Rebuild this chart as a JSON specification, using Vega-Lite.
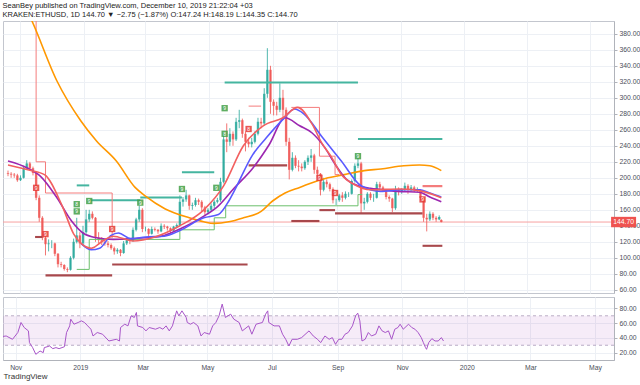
{
 "$schema": "https://vega.github.io/schema/vega-lite/v6.json",
 "background": "white",
 "padding": {"left": 0, "right": 0, "top": 1, "bottom": 0},
 "spacing": 1,
 "title": {"text": "SeanBey published on TradingView.com, December 10, 2019 21:22:04 +03", "subtitle": "KRAKEN:ETHUSD, 1D  144.70 ▼ −2.75 (−1.87%)  O:147.24  H:148.19  L:144.35  C:144.70", "anchor": "start", "font": "Liberation Sans", "fontSize": 7.5, "fontWeight": "normal", "color": "#222222", "subtitleFont": "Liberation Sans", "subtitleFontSize": 7.5, "subtitleColor": "#222222", "subtitlePadding": 2, "offset": 2, "dx": 2},
 "config": {
  "view": {"stroke": "#c3c6ce"},
  "axis": {"gridColor": "#edf0f5", "labelFont": "Liberation Sans", "labelFontSize": 6.8, "labelColor": "#4a4e59", "domainColor": "#b0b3ba", "tickColor": "#b0b3ba", "tickSize": 3, "labelPadding": 2, "labelOverlap": false}
 },
 "datasets": {
  "candles": [
   {"d":"2018-10-20","o":206,"h":209,"l":202,"c":205},
   {"d":"2018-10-23","o":205,"h":207,"l":200,"c":204},
   {"d":"2018-10-26","o":204,"h":206,"l":200,"c":203},
   {"d":"2018-10-29","o":203,"h":205,"l":195,"c":197},
   {"d":"2018-11-01","o":197,"h":203,"l":196,"c":200},
   {"d":"2018-11-04","o":200,"h":215,"l":199,"c":212},
   {"d":"2018-11-07","o":212,"h":222,"l":210,"c":218},
   {"d":"2018-11-10","o":218,"h":220,"l":209,"c":212},
   {"d":"2018-11-13","o":212,"h":214,"l":203,"c":206},
   {"d":"2018-11-16","o":206,"h":207,"l":172,"c":175},
   {"d":"2018-11-19","o":175,"h":178,"l":145,"c":150},
   {"d":"2018-11-22","o":150,"h":152,"l":122,"c":125},
   {"d":"2018-11-25","o":125,"h":128,"l":103,"c":117},
   {"d":"2018-11-28","o":117,"h":123,"l":108,"c":118},
   {"d":"2018-12-01","o":118,"h":122,"l":112,"c":118},
   {"d":"2018-12-04","o":118,"h":119,"l":102,"c":105},
   {"d":"2018-12-07","o":105,"h":106,"l":88,"c":92},
   {"d":"2018-12-10","o":92,"h":95,"l":88,"c":91},
   {"d":"2018-12-13","o":91,"h":92,"l":84,"c":86},
   {"d":"2018-12-16","o":86,"h":88,"l":82,"c":85},
   {"d":"2018-12-19","o":85,"h":102,"l":84,"c":100},
   {"d":"2018-12-22","o":100,"h":124,"l":98,"c":120},
   {"d":"2018-12-25","o":120,"h":150,"l":118,"c":128},
   {"d":"2018-12-28","o":128,"h":132,"l":112,"c":118},
   {"d":"2018-12-31","o":118,"h":140,"l":115,"c":132},
   {"d":"2019-01-03","o":132,"h":160,"l":130,"c":148},
   {"d":"2019-01-06","o":148,"h":160,"l":145,"c":155},
   {"d":"2019-01-09","o":155,"h":158,"l":148,"c":150},
   {"d":"2019-01-12","o":150,"h":151,"l":120,"c":125},
   {"d":"2019-01-15","o":125,"h":132,"l":118,"c":122},
   {"d":"2019-01-18","o":122,"h":126,"l":116,"c":120},
   {"d":"2019-01-21","o":120,"h":123,"l":115,"c":118},
   {"d":"2019-01-24","o":118,"h":121,"l":113,"c":116},
   {"d":"2019-01-27","o":116,"h":118,"l":110,"c":112},
   {"d":"2019-01-30","o":112,"h":114,"l":104,"c":108},
   {"d":"2019-02-02","o":108,"h":112,"l":105,"c":110},
   {"d":"2019-02-05","o":110,"h":111,"l":102,"c":106},
   {"d":"2019-02-08","o":106,"h":121,"l":105,"c":118},
   {"d":"2019-02-11","o":118,"h":125,"l":116,"c":122},
   {"d":"2019-02-14","o":122,"h":124,"l":117,"c":121},
   {"d":"2019-02-17","o":121,"h":138,"l":120,"c":135},
   {"d":"2019-02-20","o":135,"h":150,"l":133,"c":148},
   {"d":"2019-02-23","o":148,"h":165,"l":145,"c":160},
   {"d":"2019-02-26","o":160,"h":162,"l":132,"c":136},
   {"d":"2019-03-01","o":136,"h":139,"l":133,"c":136},
   {"d":"2019-03-04","o":136,"h":137,"l":126,"c":130},
   {"d":"2019-03-07","o":130,"h":139,"l":129,"c":136},
   {"d":"2019-03-10","o":136,"h":138,"l":133,"c":135},
   {"d":"2019-03-13","o":135,"h":136,"l":130,"c":133},
   {"d":"2019-03-16","o":133,"h":143,"l":132,"c":140},
   {"d":"2019-03-19","o":140,"h":142,"l":136,"c":139},
   {"d":"2019-03-22","o":139,"h":140,"l":134,"c":137},
   {"d":"2019-03-25","o":137,"h":138,"l":131,"c":134},
   {"d":"2019-03-28","o":134,"h":140,"l":133,"c":139},
   {"d":"2019-03-31","o":139,"h":143,"l":137,"c":141},
   {"d":"2019-04-03","o":141,"h":178,"l":140,"c":170},
   {"d":"2019-04-06","o":170,"h":176,"l":164,"c":173},
   {"d":"2019-04-09","o":173,"h":185,"l":170,"c":178},
   {"d":"2019-04-12","o":178,"h":179,"l":160,"c":165},
   {"d":"2019-04-15","o":165,"h":169,"l":160,"c":166},
   {"d":"2019-04-18","o":166,"h":175,"l":164,"c":172},
   {"d":"2019-04-21","o":172,"h":174,"l":166,"c":170},
   {"d":"2019-04-24","o":170,"h":172,"l":158,"c":163},
   {"d":"2019-04-27","o":163,"h":165,"l":152,"c":157},
   {"d":"2019-04-30","o":157,"h":162,"l":154,"c":160},
   {"d":"2019-05-03","o":160,"h":168,"l":158,"c":165},
   {"d":"2019-05-06","o":165,"h":172,"l":162,"c":170},
   {"d":"2019-05-09","o":170,"h":175,"l":168,"c":172},
   {"d":"2019-05-12","o":172,"h":200,"l":170,"c":195},
   {"d":"2019-05-15","o":195,"h":255,"l":193,"c":248},
   {"d":"2019-05-18","o":248,"h":268,"l":232,"c":245},
   {"d":"2019-05-21","o":245,"h":262,"l":240,"c":255},
   {"d":"2019-05-24","o":255,"h":258,"l":240,"c":248},
   {"d":"2019-05-27","o":248,"h":275,"l":246,"c":270},
   {"d":"2019-05-30","o":270,"h":285,"l":262,"c":272},
   {"d":"2019-06-02","o":272,"h":274,"l":250,"c":255},
   {"d":"2019-06-05","o":255,"h":258,"l":233,"c":245},
   {"d":"2019-06-08","o":245,"h":250,"l":238,"c":242},
   {"d":"2019-06-11","o":242,"h":250,"l":238,"c":245},
   {"d":"2019-06-14","o":245,"h":258,"l":243,"c":255},
   {"d":"2019-06-17","o":255,"h":275,"l":253,"c":270},
   {"d":"2019-06-20","o":270,"h":275,"l":262,"c":268},
   {"d":"2019-06-23","o":268,"h":312,"l":265,"c":305},
   {"d":"2019-06-26","o":305,"h":362,"l":300,"c":335},
   {"d":"2019-06-29","o":335,"h":340,"l":280,"c":295},
   {"d":"2019-07-02","o":295,"h":298,"l":278,"c":290},
   {"d":"2019-07-05","o":290,"h":295,"l":278,"c":285},
   {"d":"2019-07-08","o":285,"h":318,"l":282,"c":300},
   {"d":"2019-07-11","o":300,"h":310,"l":275,"c":285},
   {"d":"2019-07-14","o":285,"h":288,"l":240,"c":245},
   {"d":"2019-07-17","o":245,"h":250,"l":198,"c":210},
   {"d":"2019-07-20","o":210,"h":232,"l":208,"c":225},
   {"d":"2019-07-23","o":225,"h":228,"l":212,"c":215},
   {"d":"2019-07-26","o":215,"h":222,"l":208,"c":214},
   {"d":"2019-07-29","o":214,"h":218,"l":208,"c":212},
   {"d":"2019-08-01","o":212,"h":222,"l":210,"c":220},
   {"d":"2019-08-04","o":220,"h":228,"l":216,"c":225},
   {"d":"2019-08-07","o":225,"h":236,"l":220,"c":228},
   {"d":"2019-08-10","o":228,"h":230,"l":205,"c":210},
   {"d":"2019-08-13","o":210,"h":214,"l":200,"c":205},
   {"d":"2019-08-16","o":205,"h":206,"l":178,"c":185},
   {"d":"2019-08-19","o":185,"h":200,"l":183,"c":195},
   {"d":"2019-08-22","o":195,"h":198,"l":188,"c":192},
   {"d":"2019-08-25","o":192,"h":194,"l":183,"c":186},
   {"d":"2019-08-28","o":186,"h":188,"l":168,"c":172},
   {"d":"2019-08-31","o":172,"h":174,"l":166,"c":172},
   {"d":"2019-09-03","o":172,"h":180,"l":170,"c":178},
   {"d":"2019-09-06","o":178,"h":182,"l":170,"c":175},
   {"d":"2019-09-09","o":175,"h":183,"l":173,"c":180},
   {"d":"2019-09-12","o":180,"h":182,"l":176,"c":180},
   {"d":"2019-09-15","o":180,"h":198,"l":179,"c":196},
   {"d":"2019-09-18","o":196,"h":218,"l":194,"c":215},
   {"d":"2019-09-21","o":215,"h":225,"l":212,"c":218},
   {"d":"2019-09-24","o":218,"h":220,"l":155,"c":168},
   {"d":"2019-09-27","o":168,"h":175,"l":160,"c":170},
   {"d":"2019-09-30","o":170,"h":182,"l":168,"c":180},
   {"d":"2019-10-03","o":180,"h":182,"l":172,"c":175},
   {"d":"2019-10-06","o":175,"h":180,"l":170,"c":175},
   {"d":"2019-10-09","o":175,"h":195,"l":174,"c":192},
   {"d":"2019-10-12","o":192,"h":195,"l":185,"c":188},
   {"d":"2019-10-15","o":188,"h":190,"l":182,"c":185},
   {"d":"2019-10-18","o":185,"h":186,"l":173,"c":176},
   {"d":"2019-10-21","o":176,"h":178,"l":170,"c":174},
   {"d":"2019-10-24","o":174,"h":175,"l":157,"c":162},
   {"d":"2019-10-27","o":162,"h":190,"l":160,"c":185},
   {"d":"2019-10-30","o":185,"h":188,"l":178,"c":183},
   {"d":"2019-11-02","o":183,"h":187,"l":180,"c":185},
   {"d":"2019-11-05","o":185,"h":194,"l":183,"c":190},
   {"d":"2019-11-08","o":190,"h":192,"l":180,"c":186},
   {"d":"2019-11-11","o":186,"h":191,"l":183,"c":188},
   {"d":"2019-11-14","o":188,"h":190,"l":182,"c":185},
   {"d":"2019-11-17","o":185,"h":188,"l":182,"c":185},
   {"d":"2019-11-20","o":185,"h":186,"l":172,"c":175},
   {"d":"2019-11-23","o":175,"h":176,"l":145,"c":150},
   {"d":"2019-11-26","o":150,"h":155,"l":133,"c":148},
   {"d":"2019-11-29","o":148,"h":158,"l":146,"c":155},
   {"d":"2019-12-02","o":155,"h":157,"l":147,"c":150},
   {"d":"2019-12-05","o":150,"h":152,"l":145,"c":148},
   {"d":"2019-12-08","o":148,"h":153,"l":147,"c":151},
   {"d":"2019-12-10","o":147.24,"h":148.19,"l":144.35,"c":144.7}
  ],
  "segs": [
   {"a":"2019-05-16","b":"2019-09-21","p":319,"k":"t"},
   {"a":"2019-09-21","b":"2019-12-11","p":248.5,"k":"t"},
   {"a":"2018-12-25","b":"2019-01-06","p":190.5,"k":"t"},
   {"a":"2019-01-06","b":"2019-02-24","p":172,"k":"t"},
   {"a":"2019-02-24","b":"2019-04-05","p":175.5,"k":"t"},
   {"a":"2019-04-05","b":"2019-05-06","p":207,"k":"t"},
   {"a":"2018-11-15","b":"2018-11-22","p":126,"k":"d"},
   {"a":"2018-11-25","b":"2019-01-28","p":78,"k":"d"},
   {"a":"2019-01-28","b":"2019-06-07","p":91.7,"k":"d"},
   {"a":"2019-06-08","b":"2019-07-15","p":215.5,"k":"d"},
   {"a":"2019-07-19","b":"2019-08-15","p":146,"k":"d"},
   {"a":"2019-08-15","b":"2019-08-30","p":159.6,"k":"d"},
   {"a":"2019-08-30","b":"2019-11-22","p":155.5,"k":"d"},
   {"a":"2019-11-22","b":"2019-12-11","p":115,"k":"d"},
   {"a":"2019-11-22","b":"2019-12-11","p":189.6,"k":"s"}
  ],
  "steps": [
   {"s":"s1","d":"2018-11-14","p":430},
   {"s":"s1","d":"2018-11-16","p":220},
   {"s":"s1","d":"2018-11-25","p":181},
   {"s":"s1","d":"2019-01-28","p":125},
   {"s":"s2","d":"2019-06-08","p":289.6},
   {"s":"s2","d":"2019-06-20","p":289.6},
   {"s":"s3","d":"2019-07-19","p":288},
   {"s":"s3","d":"2019-08-15","p":227},
   {"s":"s3","d":"2019-08-30","p":204},
   {"s":"s3","d":"2019-09-03","p":204},
   {"s":"g","d":"2018-12-25","p":85.5},
   {"s":"g","d":"2019-01-06","p":123},
   {"s":"g","d":"2019-04-03","p":135},
   {"s":"g","d":"2019-05-06","p":150},
   {"s":"g","d":"2019-05-17","p":165},
   {"s":"g","d":"2019-09-21","p":179},
   {"s":"g","d":"2019-09-25","p":179}
  ],
  "tds": [
   {"d":"2018-11-16","p":187.5,"k":"r","t":"9"},
   {"d":"2018-11-25","p":129.6,"k":"r","t":"9"},
   {"d":"2018-12-25","p":167,"k":"g","t":"8"},
   {"d":"2018-12-25","p":158,"k":"g","t":"9"},
   {"d":"2019-01-06","p":171,"k":"g","t":"9"},
   {"d":"2019-01-28","p":136,"k":"r","t":"9"},
   {"d":"2019-02-24","p":169,"k":"g","t":"9"},
   {"d":"2019-04-05","p":186,"k":"g","t":"9"},
   {"d":"2019-05-08","p":187.5,"k":"g","t":"9"},
   {"d":"2019-05-16","p":287,"k":"g","t":"9"},
   {"d":"2019-05-16","p":255,"k":"g","t":"8"},
   {"d":"2019-06-08","p":261,"k":"r","t":"8"},
   {"d":"2019-08-15","p":200,"k":"r","t":"9"},
   {"d":"2019-08-30","p":181,"k":"r","t":"9"},
   {"d":"2019-09-21","p":227,"k":"g","t":"9"},
   {"d":"2019-11-22","p":173,"k":"r","t":"9"}
  ],
  "last": [
   {"a":"2020-05-21","b":"2020-06-14","m":"2020-06-02","lo":138.2,"hi":151.2,"p":144.7,"t":"144.70"}
  ],
  "mas": [
   {"s":"o","d":"2018-11-07","p":410},{"s":"o","d":"2018-11-12","p":396},{"s":"o","d":"2018-12-06","p":321},{"s":"o","d":"2018-12-29","p":271},{"s":"o","d":"2019-01-13","p":246},{"s":"o","d":"2019-02-01","p":221},{"s":"o","d":"2019-02-19","p":188},{"s":"o","d":"2019-03-01","p":177},{"s":"o","d":"2019-03-20","p":161},{"s":"o","d":"2019-04-12","p":150},{"s":"o","d":"2019-04-26","p":145},{"s":"o","d":"2019-05-06","p":143},{"s":"o","d":"2019-05-20","p":145},{"s":"o","d":"2019-06-03","p":150},{"s":"o","d":"2019-06-20","p":158},{"s":"o","d":"2019-07-01","p":171},{"s":"o","d":"2019-07-13","p":181},{"s":"o","d":"2019-07-27","p":188},{"s":"o","d":"2019-08-17","p":198},{"s":"o","d":"2019-09-08","p":204},{"s":"o","d":"2019-09-27","p":209},{"s":"o","d":"2019-10-13","p":211},{"s":"o","d":"2019-11-04","p":215},{"s":"o","d":"2019-11-19","p":216},{"s":"o","d":"2019-11-29","p":215},{"s":"o","d":"2019-12-10","p":209},
   {"s":"m","d":"2018-10-20","p":221},{"s":"m","d":"2018-11-08","p":212},{"s":"m","d":"2018-11-20","p":202},{"s":"m","d":"2018-12-06","p":175},{"s":"m","d":"2018-12-20","p":146},{"s":"m","d":"2018-12-31","p":131},{"s":"m","d":"2019-01-13","p":125},{"s":"m","d":"2019-01-29","p":123},{"s":"m","d":"2019-02-17","p":124},{"s":"m","d":"2019-03-01","p":125},{"s":"m","d":"2019-03-19","p":128},{"s":"m","d":"2019-04-03","p":136},{"s":"m","d":"2019-04-26","p":152},{"s":"m","d":"2019-05-10","p":165},{"s":"m","d":"2019-05-25","p":187},{"s":"m","d":"2019-06-12","p":212},{"s":"m","d":"2019-06-28","p":242},{"s":"m","d":"2019-07-13","p":275},{"s":"m","d":"2019-07-27","p":265},{"s":"m","d":"2019-08-08","p":256},{"s":"m","d":"2019-08-20","p":238},{"s":"m","d":"2019-08-30","p":217},{"s":"m","d":"2019-09-10","p":198},{"s":"m","d":"2019-09-27","p":188},{"s":"m","d":"2019-10-03","p":187},{"s":"m","d":"2019-10-29","p":183},{"s":"m","d":"2019-11-19","p":182},{"s":"m","d":"2019-11-29","p":176},{"s":"m","d":"2019-12-10","p":170},
   {"s":"b","d":"2018-12-29","p":118},{"s":"b","d":"2019-01-08","p":110},{"s":"b","d":"2019-01-16","p":112},{"s":"b","d":"2019-01-27","p":128},{"s":"b","d":"2019-02-03","p":131},{"s":"b","d":"2019-02-15","p":124},{"s":"b","d":"2019-03-01","p":126},{"s":"b","d":"2019-03-19","p":127},{"s":"b","d":"2019-04-03","p":134},{"s":"b","d":"2019-04-26","p":150},{"s":"b","d":"2019-05-10","p":154},{"s":"b","d":"2019-05-20","p":171},{"s":"b","d":"2019-05-25","p":183},{"s":"b","d":"2019-06-12","p":229},{"s":"b","d":"2019-06-25","p":250},{"s":"b","d":"2019-07-11","p":273},{"s":"b","d":"2019-07-22","p":286},{"s":"b","d":"2019-07-31","p":280},{"s":"b","d":"2019-08-17","p":252},{"s":"b","d":"2019-09-05","p":221},{"s":"b","d":"2019-09-24","p":190},{"s":"b","d":"2019-10-13","p":183},{"s":"b","d":"2019-11-01","p":185},{"s":"b","d":"2019-11-19","p":185},{"s":"b","d":"2019-11-29","p":181},{"s":"b","d":"2019-12-10","p":176},
   {"s":"r","d":"2018-10-20","p":216},{"s":"r","d":"2018-11-08","p":210},{"s":"r","d":"2018-11-24","p":204},{"s":"r","d":"2018-12-11","p":165},{"s":"r","d":"2018-12-22","p":130},{"s":"r","d":"2018-12-30","p":117},{"s":"r","d":"2019-01-08","p":112},{"s":"r","d":"2019-01-19","p":121},{"s":"r","d":"2019-01-29","p":127},{"s":"r","d":"2019-02-17","p":121},{"s":"r","d":"2019-03-10","p":126},{"s":"r","d":"2019-04-03","p":140},{"s":"r","d":"2019-04-26","p":160},{"s":"r","d":"2019-05-15","p":190},{"s":"r","d":"2019-06-03","p":240},{"s":"r","d":"2019-06-22","p":265},{"s":"r","d":"2019-07-11","p":275},{"s":"r","d":"2019-07-25","p":288},{"s":"r","d":"2019-08-08","p":267},{"s":"r","d":"2019-08-17","p":244},{"s":"r","d":"2019-08-27","p":225},{"s":"r","d":"2019-09-05","p":204},{"s":"r","d":"2019-09-17","p":192},{"s":"r","d":"2019-10-03","p":185},{"s":"r","d":"2019-11-01","p":186},{"s":"r","d":"2019-11-22","p":183},{"s":"r","d":"2019-12-10","p":175}
  ],
  "rsi": [
   {"d":"2018-10-20","v":42},{"d":"2018-10-23","v":42.6},{"d":"2018-10-29","v":38.1},{"d":"2018-11-03","v":47.3},{"d":"2018-11-06","v":60.9},{"d":"2018-11-09","v":54.1},{"d":"2018-11-13","v":49.5},{"d":"2018-11-14","v":33.6},{"d":"2018-11-17","v":26.8},{"d":"2018-11-20","v":17.7},{"d":"2018-11-24","v":22.2},{"d":"2018-11-27","v":20},{"d":"2018-11-28","v":26.8},{"d":"2018-12-03","v":29},{"d":"2018-12-06","v":25.4},{"d":"2018-12-09","v":26.8},{"d":"2018-12-12","v":25.4},{"d":"2018-12-17","v":28},{"d":"2018-12-19","v":47.3},{"d":"2018-12-22","v":56.3},{"d":"2018-12-23","v":65.4},{"d":"2018-12-26","v":58.6},{"d":"2018-12-30","v":60.9},{"d":"2019-01-02","v":63.1},{"d":"2019-01-05","v":60.9},{"d":"2019-01-08","v":56.3},{"d":"2019-01-11","v":51.8},{"d":"2019-01-13","v":42.6},{"d":"2019-01-17","v":47.3},{"d":"2019-01-22","v":45},{"d":"2019-01-28","v":35.8},{"d":"2019-02-04","v":38.1},{"d":"2019-02-07","v":35.8},{"d":"2019-02-08","v":54.1},{"d":"2019-02-12","v":58.6},{"d":"2019-02-15","v":56.3},{"d":"2019-02-18","v":69.9},{"d":"2019-02-21","v":67.7},{"d":"2019-02-23","v":74.5},{"d":"2019-02-24","v":56.3},{"d":"2019-03-01","v":54.1},{"d":"2019-03-04","v":49.5},{"d":"2019-03-07","v":54.1},{"d":"2019-03-13","v":51.8},{"d":"2019-03-17","v":54.1},{"d":"2019-03-20","v":51.8},{"d":"2019-03-23","v":56.3},{"d":"2019-03-26","v":49.5},{"d":"2019-03-29","v":56.3},{"d":"2019-04-02","v":76.7},{"d":"2019-04-04","v":69.9},{"d":"2019-04-07","v":76.7},{"d":"2019-04-11","v":67.7},{"d":"2019-04-12","v":60.9},{"d":"2019-04-15","v":58.6},{"d":"2019-04-18","v":60.9},{"d":"2019-04-22","v":56.3},{"d":"2019-04-25","v":42.6},{"d":"2019-04-28","v":47.3},{"d":"2019-05-03","v":45},{"d":"2019-05-06","v":56.3},{"d":"2019-05-09","v":60.9},{"d":"2019-05-12","v":69.9},{"d":"2019-05-15","v":85.9},{"d":"2019-05-18","v":67.7},{"d":"2019-05-23","v":72.2},{"d":"2019-05-26","v":65.4},{"d":"2019-05-31","v":60.9},{"d":"2019-06-03","v":49.5},{"d":"2019-06-09","v":56.3},{"d":"2019-06-12","v":45},{"d":"2019-06-16","v":58.6},{"d":"2019-06-22","v":60.9},{"d":"2019-06-25","v":72.2},{"d":"2019-06-27","v":76.7},{"d":"2019-06-28","v":60.9},{"d":"2019-07-03","v":56.3},{"d":"2019-07-08","v":56.3},{"d":"2019-07-11","v":45},{"d":"2019-07-14","v":38.1},{"d":"2019-07-17","v":29},{"d":"2019-07-20","v":38.1},{"d":"2019-07-25","v":38.1},{"d":"2019-07-29","v":40.4},{"d":"2019-08-05","v":49.5},{"d":"2019-08-09","v":42.6},{"d":"2019-08-13","v":38.1},{"d":"2019-08-16","v":33.6},{"d":"2019-08-20","v":42.6},{"d":"2019-08-24","v":38.1},{"d":"2019-08-27","v":40.4},{"d":"2019-08-30","v":31.3},{"d":"2019-09-02","v":38.1},{"d":"2019-09-05","v":38.1},{"d":"2019-09-08","v":45},{"d":"2019-09-11","v":47.3},{"d":"2019-09-15","v":56.3},{"d":"2019-09-18","v":69.9},{"d":"2019-09-20","v":73.6},{"d":"2019-09-22","v":63.1},{"d":"2019-09-24","v":35.8},{"d":"2019-09-27","v":38.1},{"d":"2019-09-30","v":47.3},{"d":"2019-10-03","v":42.6},{"d":"2019-10-07","v":45},{"d":"2019-10-10","v":56.3},{"d":"2019-10-13","v":49.5},{"d":"2019-10-16","v":47.3},{"d":"2019-10-19","v":49.5},{"d":"2019-10-22","v":38.1},{"d":"2019-10-25","v":51.8},{"d":"2019-10-28","v":54.1},{"d":"2019-10-30","v":58.6},{"d":"2019-11-02","v":51.8},{"d":"2019-11-07","v":58.6},{"d":"2019-11-10","v":54.1},{"d":"2019-11-13","v":51.8},{"d":"2019-11-16","v":47.3},{"d":"2019-11-19","v":40.4},{"d":"2019-11-21","v":33.6},{"d":"2019-11-23","v":26.8},{"d":"2019-11-24","v":24.5},{"d":"2019-11-26","v":33.6},{"d":"2019-11-29","v":39},{"d":"2019-12-02","v":35.8},{"d":"2019-12-05","v":35.8},{"d":"2019-12-08","v":40.4},{"d":"2019-12-10","v":35.8}
  ]
 },
 "vconcat": [
  {
   "width": 611,
   "height": 272,
   "resolve": {"scale": {"color": "independent", "strokeWidth": "independent"}},
   "layer": [
    {
     "data": {"values": [{}]},
     "mark": {"type": "rule", "color": "#f7a1a1", "strokeWidth": 1},
     "encoding": {
      "y": {"datum": 144.7, "type": "quantitative", "title": null,
            "scale": {"domain": [56, 396], "nice": false, "zero": false},
            "axis": {"orient": "right", "values": [60,80,100,120,140,160,180,200,220,240,260,280,300,320,340,360,380], "tickCount": 40, "format": ".2f", "grid": true, "title": null, "labelOverlap": false, "labelFlush": false}}
     }
    },
    {
     "data": {"name": "candles"},
     "mark": {"type": "rule", "strokeWidth": 1, "opacity": 0.8},
     "encoding": {
      "x": {"field": "d", "type": "temporal", "title": null,
            "scale": {"domain": [{"year": 2018, "month": 10, "date": 20}, {"year": 2020, "month": 5, "date": 19}]},
            "axis": {"values": [{"year":2018,"month":11,"date":1},{"year":2019,"month":1,"date":1},{"year":2019,"month":3,"date":1},{"year":2019,"month":5,"date":1},{"year":2019,"month":7,"date":1},{"year":2019,"month":9,"date":1},{"year":2019,"month":11,"date":1},{"year":2020,"month":1,"date":1},{"year":2020,"month":3,"date":1},{"year":2020,"month":5,"date":1}], "labels": false, "ticks": false, "domain": false, "grid": true, "title": null}},
      "y": {"field": "l", "type": "quantitative", "title": null},
      "y2": {"field": "h"},
      "color": {"condition": {"test": "datum.c >= datum.o", "value": "#26a69a"}, "value": "#ef5350"}
     }
    },
    {
     "data": {"name": "candles"},
     "mark": {"type": "bar", "size": 2.4, "opacity": 0.8},
     "encoding": {
      "x": {"field": "d", "type": "temporal", "title": null},
      "y": {"field": "o", "type": "quantitative", "title": null},
      "y2": {"field": "c"},
      "color": {"condition": {"test": "datum.c >= datum.o", "value": "#26a69a"}, "value": "#ef5350"}
     }
    },
    {
     "data": {"name": "segs"},
     "mark": {"type": "rule"},
     "encoding": {
      "x": {"field": "a", "type": "temporal", "title": null},
      "x2": {"field": "b"},
      "y": {"field": "p", "type": "quantitative", "title": null},
      "color": {"field": "k", "type": "nominal", "legend": null, "scale": {"domain": ["t","d","s"], "range": ["#45b5a0","#a8484c","#f47c7c"]}},
      "strokeWidth": {"field": "k", "type": "nominal", "legend": null, "scale": {"domain": ["t","d","s"], "range": [2,2.2,1.2]}}
     }
    },
    {
     "data": {"name": "steps"},
     "mark": {"type": "line", "interpolate": "step-after", "strokeWidth": 1, "clip": true},
     "encoding": {
      "x": {"field": "d", "type": "temporal", "title": null},
      "y": {"field": "p", "type": "quantitative", "title": null},
      "color": {"field": "s", "type": "nominal", "legend": null, "scale": {"domain": ["s1","s2","s3","g"], "range": ["#f47c7c","#f47c7c","#f47c7c","#6cbf6c"]}}
     }
    },
    {
     "data": {"name": "mas"},
     "mark": {"type": "line", "interpolate": "monotone", "clip": true},
     "encoding": {
      "x": {"field": "d", "type": "temporal", "title": null},
      "y": {"field": "p", "type": "quantitative", "title": null},
      "color": {"field": "s", "type": "nominal", "legend": null, "scale": {"domain": ["o","m","b","r"], "range": ["#ff9800","#9c27b0","#5a5aff","#f26060"]}},
      "strokeWidth": {"field": "s", "type": "nominal", "legend": null, "scale": {"domain": ["o","m","b","r"], "range": [1.6,1.6,0.9,0.9]}}
     }
    },
    {
     "data": {"name": "tds"},
     "mark": {"type": "point", "shape": "square", "filled": true, "size": 40, "opacity": 0.85},
     "encoding": {
      "x": {"field": "d", "type": "temporal", "title": null},
      "y": {"field": "p", "type": "quantitative", "title": null},
      "color": {"field": "k", "type": "nominal", "legend": null, "scale": {"domain": ["g","r"], "range": ["#43a047","#e53935"]}}
     }
    },
    {
     "data": {"name": "tds"},
     "mark": {"type": "text", "color": "white", "fontSize": 5, "font": "Liberation Sans", "baseline": "middle", "align": "center"},
     "encoding": {
      "x": {"field": "d", "type": "temporal", "title": null},
      "y": {"field": "p", "type": "quantitative", "title": null},
      "text": {"field": "t"}
     }
    },
    {
     "data": {"name": "last"},
     "mark": {"type": "rect", "color": "#ef5350", "clip": false},
     "encoding": {
      "x": {"field": "a", "type": "temporal", "title": null},
      "x2": {"field": "b"},
      "y": {"field": "lo", "type": "quantitative", "title": null},
      "y2": {"field": "hi"}
     }
    },
    {
     "data": {"name": "last"},
     "mark": {"type": "text", "color": "white", "fontSize": 6.8, "font": "Liberation Sans", "baseline": "middle", "align": "center", "clip": false},
     "encoding": {
      "x": {"field": "m", "type": "temporal", "title": null},
      "y": {"field": "p", "type": "quantitative", "title": null},
      "text": {"field": "t"}
     }
    }
   ]
  },
  {
   "width": 611,
   "height": 63,
   "layer": [
    {
     "data": {"values": [{}]},
     "mark": {"type": "rect", "color": "#9c27b0", "opacity": 0.09},
     "encoding": {
      "y": {"datum": 30, "type": "quantitative", "title": null,
            "scale": {"domain": [10, 95.5], "nice": false, "zero": false},
            "axis": {"orient": "right", "values": [20,40,60,80], "tickCount": 20, "format": ".2f", "grid": true, "title": null, "labelOverlap": false, "labelFlush": false}},
      "y2": {"datum": 70}
     }
    },
    {
     "data": {"values": [{"v": 30}, {"v": 70}]},
     "mark": {"type": "rule", "strokeDash": [3, 3], "color": "#aa9bb8", "strokeWidth": 0.8},
     "encoding": {"y": {"field": "v", "type": "quantitative", "title": null}}
    },
    {
     "data": {"name": "rsi"},
     "mark": {"type": "line", "color": "#a855c9", "strokeWidth": 1},
     "encoding": {
      "x": {"field": "d", "type": "temporal",
            "scale": {"domain": [{"year": 2018, "month": 10, "date": 20}, {"year": 2020, "month": 5, "date": 19}]},
            "axis": {"values": [{"year":2018,"month":11,"date":1},{"year":2019,"month":1,"date":1},{"year":2019,"month":3,"date":1},{"year":2019,"month":5,"date":1},{"year":2019,"month":7,"date":1},{"year":2019,"month":9,"date":1},{"year":2019,"month":11,"date":1},{"year":2020,"month":1,"date":1},{"year":2020,"month":3,"date":1},{"year":2020,"month":5,"date":1}],
                     "labelExpr": "month(datum.value) == 0 ? timeFormat(datum.value, '%Y') : timeFormat(datum.value, '%b')",
                     "grid": true, "ticks": false, "labelPadding": 4, "labelOverlap": false,
                     "title": "TradingView", "titleAnchor": "start", "titleAlign": "left", "titleFontSize": 8, "titleFontWeight": "normal", "titleColor": "#333333", "titleFont": "Liberation Sans", "titlePadding": 2}},
      "y": {"field": "v", "type": "quantitative", "title": null}
     }
    }
   ]
  }
 ]
}
